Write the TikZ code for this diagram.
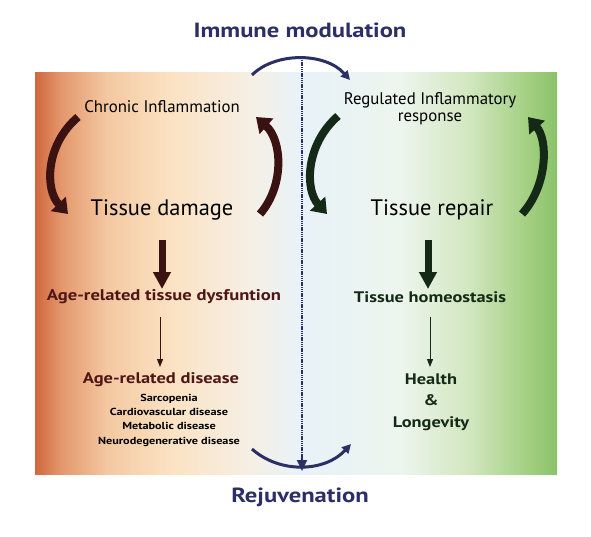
\documentclass[tikz,border=0pt]{standalone}
\usepackage{fontspec}
\setmainfont{PT Sans}
\newfontfamily\wf[FakeStretch=1.2]{PT Sans}
\usetikzlibrary{arrows.meta}
\definecolor{navy}{HTML}{2B2F66}
\definecolor{dbrown}{HTML}{3A1212}
\definecolor{dred}{HTML}{4E1616}
\definecolor{dgreen}{HTML}{142A16}
\definecolor{cA}{HTML}{D0673F}
\definecolor{cB}{HTML}{E4976C}
\definecolor{cC}{HTML}{F4C9A2}
\definecolor{cD}{HTML}{FBE2C2}
\definecolor{cE}{HTML}{F6EFE4}
\definecolor{cF}{HTML}{E8F2F8}
\definecolor{cG}{HTML}{EDF5EE}
\definecolor{cH}{HTML}{D2E7C0}
\definecolor{cI}{HTML}{A0CE7E}
\definecolor{cJ}{HTML}{8BC26A}
\pgfdeclarehorizontalshading{bgshade}{100bp}{color(0bp)=(cA); color(25bp)=(cA); color(27.5bp)=(cB); color(32bp)=(cC); color(38bp)=(cD); color(45.5bp)=(cE); color(50.5bp)=(cF); color(60bp)=(cG); color(66.5bp)=(cH); color(72.5bp)=(cI); color(75bp)=(cJ); color(100bp)=(cJ)}
\tikzset{
  lbl/.style={inner sep=1pt, align=center},
  cyclearrow/.style={line width=8pt, -{Triangle[width=20pt,length=14pt]}},
  bigdown/.style={line width=7pt, -{Triangle[width=17pt,length=17pt]}},
  thindown/.style={line width=1pt, -{Triangle[width=6pt,length=8pt]}},
  navyarc/.style={navy, line width=3pt, -{Triangle[width=9pt,length=9pt]}},
}
\begin{document}
\begin{tikzpicture}[x=1pt,y=-1pt]
\useasboundingbox (0,0) rectangle (591,536);
\fill[white] (0,0) rectangle (591,536);
\shade[shading=bgshade] (35,72) rectangle (557,474);

% titles
\node[lbl, navy, font=\wf\fontsize{20.5}{22}\selectfont\bfseries] (imm) at (300,30) {Immune modulation};
\node[lbl, navy, font=\wf\fontsize{20.5}{22}\selectfont\bfseries] (rej) at (300,497) {Rejuvenation};

% divider
\coordinate (dtop) at (302,60);
\coordinate (dbot) at (302,471);
\draw[navy, line width=2.2pt, dash pattern=on 1.3pt off 0.9pt] (dtop) -- (302,458);
\draw[navy, line width=2.2pt, -{Triangle[width=10pt,length=11pt]}] (302,455) -- (dbot);

% top and bottom arcs
\coordinate (ta1) at (252,75);
\coordinate (ta2) at (350,80);
\draw[navyarc] (ta1) .. controls (275,52) and (325,52) .. (ta2);
\coordinate (ba1) at (252,449);
\coordinate (ba2) at (351,444);
\draw[navyarc] (ba1) .. controls (280,474) and (325,472) .. (ba2);

% left side
\node[lbl, font=\fontsize{16.8}{18}\selectfont] (chr) at (162,107) {Chronic Inflammation};
\node[lbl, font=\fontsize{22.4}{26}\selectfont] (tdam) at (162,210) {Tissue damage};
\node[lbl, dred, font=\wf\fontsize{15.5}{17}\selectfont\bfseries] (dys) at (164,297) {Age-related tissue dysfuntion};
\node[lbl, dred, font=\wf\fontsize{15.4}{17}\selectfont\bfseries] (ard) at (161,380) {Age-related disease};
\node[lbl, font=\wf\fontsize{10.2}{14.3}\selectfont\bfseries] (list) at (169,420) {Sarcopenia\\Cardiovascular disease\\Metabolic disease\\Neurodegenerative disease};

\coordinate (la1) at (78,117);
\coordinate (la2) at (68,214);
\draw[dbrown, cyclearrow] (la1) .. controls (45,145) and (45,190) .. (la2);
\coordinate (ra1) at (260,214);
\coordinate (ra2) at (256,117);
\draw[dbrown, cyclearrow] (ra1) .. controls (285,185) and (282,140) .. (ra2);

\coordinate (bd1) at (162,240);
\coordinate (bd1e) at (162,289);
\draw[dbrown, bigdown] (bd1) -- (bd1e);
\coordinate (td1) at (160,317);
\coordinate (td1e) at (160,367);
\draw[dbrown, thindown] (td1) -- (td1e);

% right side
\node[lbl, font=\fontsize{16.8}{17}\selectfont] (reg) at (430,108.5) {Regulated Inflammatory\\response};
\node[lbl, font=\fontsize{22.4}{26}\selectfont] (trep) at (432,210) {Tissue repair};
\node[lbl, dgreen, font=\wf\fontsize{15.3}{17}\selectfont\bfseries] (hom) at (430,297) {Tissue homeostasis};
\node[lbl, dgreen, font=\wf\fontsize{15.3}{21.5}\selectfont\bfseries] (hl) at (431,402) {Health\\\&\\Longevity};

\coordinate (lb1) at (338,116);
\coordinate (lb2) at (327,214);
\draw[dgreen, cyclearrow] (lb1) .. controls (305,145) and (305,190) .. (lb2);
\coordinate (rb1) at (522,214);
\coordinate (rb2) at (528,117);
\draw[dgreen, cyclearrow] (rb1) .. controls (548,185) and (548,140) .. (rb2);

\coordinate (bd2) at (428,240);
\coordinate (bd2e) at (428,289);
\draw[dgreen, bigdown] (bd2) -- (bd2e);
\coordinate (td2) at (430,317);
\coordinate (td2e) at (430,367);
\draw[dgreen, thindown] (td2) -- (td2e);
\end{tikzpicture}
\end{document}
